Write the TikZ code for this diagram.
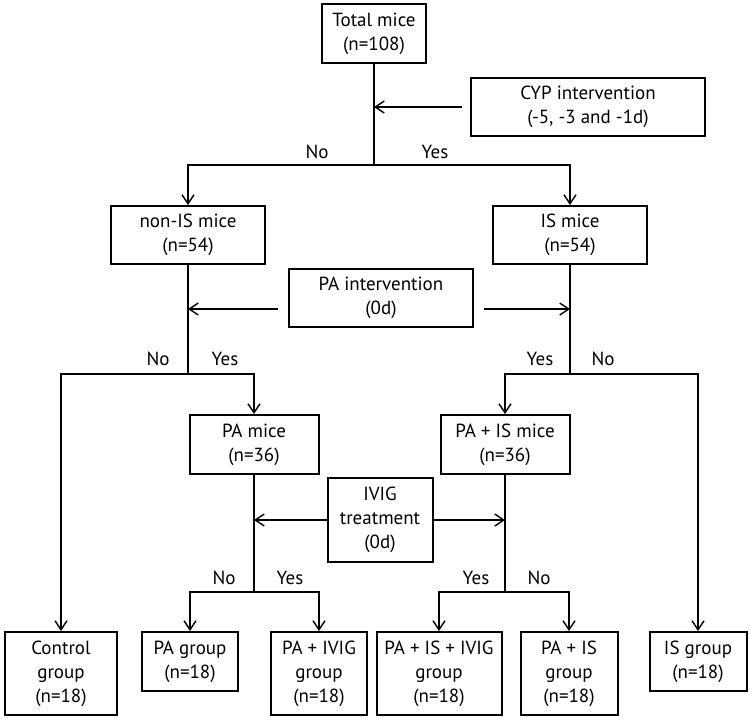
\documentclass[tikz,border=0pt]{standalone}
\usepackage{fontspec}
\setmainfont{PT Sans}
\usetikzlibrary{arrows.meta}

\begin{document}
\begin{tikzpicture}[x=0.5pt,y=-0.5pt,line width=0.7pt,
	>={Straight Barb[length=4.5pt,width=6pt]},
	box/.style={draw,line width=1pt,align=center,inner sep=0pt,font=\fontsize{9.5}{12}\selectfont},
	lbl/.style={font=\fontsize{9.5}{12}\selectfont}]
	\useasboundingbox (0,0) rectangle (750,720);

	% CYP
	\node[box,minimum width=52pt,minimum height=29.5pt] (total) at (374,33.5) {Total mice\\(n=108)};
	\node[box,minimum width=117pt,minimum height=29pt] (cyp) at (588,107) {CYP intervention\\(-5, -3 and -1d)};
	\coordinate (c1) at (374,107);
	\coordinate (b1) at (374,165);
	\node[box,minimum width=77pt,minimum height=29pt] (nonis) at (188,235) {non-IS mice\\(n=54)};
	\node[box,minimum width=77pt,minimum height=29pt] (ismice) at (570,235) {IS mice\\(n=54)};
	\draw (total) -- (b1);
	\draw[->] ([xshift=-4pt]cyp.west) -- (c1);
	\draw[->] (b1) -| (nonis);
	\draw[->] (b1) -| (ismice);
	\node[lbl] (no1) at (317,152) {No};
	\node[lbl] (yes1) at (435,152) {Yes};

	% PA
	\node[box,minimum width=92pt,minimum height=29pt] (paint) at (381,298) {PA intervention\\(0d)};
	\coordinate (p1) at (188,309);
	\coordinate (p2) at (570,309);
	\coordinate (b2) at (188,374);
	\coordinate (b3) at (570,374);
	\node[box,minimum width=56pt,minimum height=41.5pt] (control) at (61,673.5) {Control\\group\\(n=18)};
	\node[box,minimum width=64.5pt,minimum height=29.5pt] (pamice) at (254,444.5) {PA mice\\(n=36)};
	\node[box,minimum width=64.5pt,minimum height=29.5pt] (paismice) at (505,444.5) {PA + IS mice\\(n=36)};
	\node[box,minimum width=48.5pt,minimum height=29.5pt] (isgroup) at (698,661.5) {IS group\\(n=18)};
	\draw (nonis) -- (b2);
	\draw (ismice) -- (b3);
	\draw[->] ([xshift=-5pt]paint.west |- p1) -- (p1);
	\draw[->] ([xshift=5pt]paint.east |- p2) -- (p2);
	\draw[->] (b2) -| (control);
	\draw[->] (b2) -| (pamice);
	\draw[->] (b3) -| (paismice);
	\draw[->] (b3) -| (isgroup);
	\node[lbl] (no2) at (158,359) {No};
	\node[lbl] (yes2) at (225,359) {Yes};
	\node[lbl] (yes3) at (540,359) {Yes};
	\node[lbl] (no3) at (603,359) {No};

	% IVIG
	\node[box,minimum width=52.5pt,minimum height=42pt] (ivig) at (380,520) {IVIG\\treatment\\(0d)};
	\coordinate (v1) at (254,520);
	\coordinate (v2) at (505,520);
	\coordinate (b4) at (254,592);
	\coordinate (b5) at (505,592);
	\node[box,minimum width=48pt,minimum height=29.5pt] (pagroup) at (190,661.5) {PA group\\(n=18)};
	\node[box,minimum width=48pt,minimum height=41.5pt] (paivig) at (319,673.5) {PA + IVIG\\group\\(n=18)};
	\node[box,minimum width=62.5pt,minimum height=41.5pt] (paisivig) at (439,673.5) {PA + IS + IVIG\\group\\(n=18)};
	\node[box,minimum width=48.5pt,minimum height=41.5pt] (paisgroup) at (569,673.5) {PA + IS\\group\\(n=18)};
	\draw (pamice) -- (b4);
	\draw (paismice) -- (b5);
	\draw[->] (ivig.west) -- (v1);
	\draw[->] (ivig.east) -- (v2);
	\draw[->] (b4) -| (pagroup);
	\draw[->] (b4) -| (paivig);
	\draw[->] (b5) -| (paisivig);
	\draw[->] (b5) -| (paisgroup);
	\node[lbl] (no4) at (224,578) {No};
	\node[lbl] (yes4) at (290,578) {Yes};
	\node[lbl] (yes5) at (476,578) {Yes};
	\node[lbl] (no5) at (539,578) {No};
\end{tikzpicture}
\end{document}
